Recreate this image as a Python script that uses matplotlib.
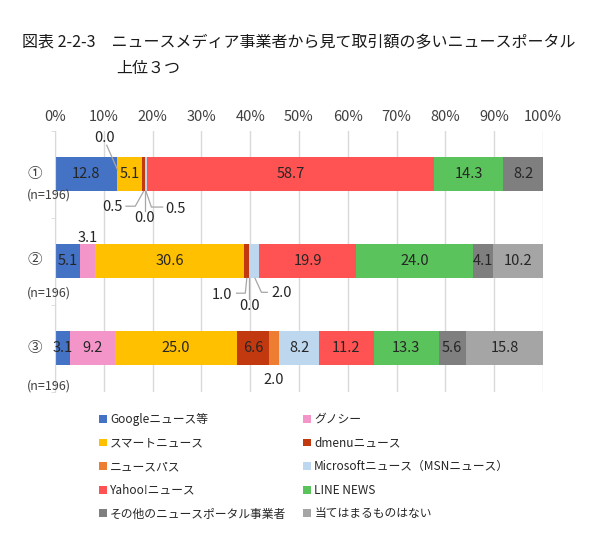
import matplotlib
matplotlib.use("Agg")
import matplotlib.pyplot as plt
from matplotlib.patches import Patch
import numpy as np

plt.rcParams['font.family'] = ['Noto Sans CJK JP', 'DejaVu Sans']

# ---------------- data ----------------
rows = ["①", "②", "③"]
n_labels = ["(n=196)", "(n=196)", "(n=196)"]
series = ["Googleニュース等", "グノシー", "スマートニュース", "dmenuニュース", "ニュースパス",
          "Microsoftニュース（MSNニュース）", "Yahoo!ニュース", "LINE NEWS",
          "その他のニュースポータル事業者", "当てはまるものはない"]
google = [12.8, 5.1, 3.1]
gunosy = [0.0, 3.1, 9.2]
smart = [5.1, 30.6, 25.0]
dmenu = [0.5, 1.0, 6.6]
newspass = [0.0, 0.0, 2.0]
microsoft = [0.5, 2.0, 8.2]
yahoo = [58.7, 19.9, 11.2]
line_news = [14.3, 24.0, 13.3]
other = [8.2, 4.1, 5.6]
none_ = [0.0, 10.2, 15.8]
values = [google, gunosy, smart, dmenu, newspass, microsoft, yahoo, line_news, other, none_]
xticks = [0, 10, 20, 30, 40, 50, 60, 70, 80, 90, 100]
xticklabels = [f"{t}%" for t in xticks]

colors = ['#4472C4', '#F495C9', '#FFC000', '#C3390F', '#ED7D31',
          '#BDD7EE', '#FF5252', '#5BC35B', '#7F7F7F', '#A5A5A5']

# label placement for small segments: (row, seg) -> (dx, dy, leader points relative to anchor)
outside = {
    (0, 1): (-2.7, -0.41, [(0, -0.05), (-2.2, -0.33)]),
    (0, 3): (-6.45, 0.38, [(0, 0.2), (-1.7, 0.37), (-3.6, 0.37)]),
    (0, 4): (0.0, 0.51, [(0, 0.2), (0, 0.43)]),
    (0, 5): (6.05, 0.40, [(0, 0.2), (1.1, 0.38), (3.4, 0.38)]),
    (1, 1): (0.0, -0.27, []),
    (1, 3): (-5.0, 0.39, [(0, 0.2), (-0.3, 0.37), (-2.1, 0.37)]),
    (1, 4): (0.0, 0.52, [(0, 0.2), (0, 0.44)]),
    (1, 5): (5.7, 0.37, [(0.2, 0.2), (1.5, 0.36), (2.7, 0.36)]),
    (2, 4): (0.0, 0.37, []),
}

W, H = 590, 540
fig = plt.figure(figsize=(W / 100, H / 100), dpi=100)
ax = fig.add_axes([55 / W, 1 - 391.5 / H, (543 - 55) / W, (391.5 - 130.5) / H])

ypos = np.arange(len(rows))
left = np.zeros(len(rows))
bar_h = 0.39
txt_color = '#262626'
lab_fs = 10.5
for s, (name, vals, c) in enumerate(zip(series, values, colors)):
    vals = np.array(vals)
    ax.barh(ypos, vals, left=left, height=bar_h, color=c, label=name, zorder=2)
    for r in range(len(rows)):
        v = vals[r]
        anchor = left[r] + v / 2
        if (r, s) in outside:
            dx, dy, pts = outside[(r, s)]
            ax.text(anchor + dx, r + dy, f"{v:.1f}", ha='center', va='center',
                    fontsize=lab_fs, color=txt_color, zorder=4)
            if pts:
                px = [anchor + p[0] for p in pts]
                py = [r + p[1] for p in pts]
                ax.plot(px, py, color='#A6A6A6', lw=0.9, zorder=3, clip_on=False)
        elif v > 0:
            ax.text(anchor, r, f"{v:.1f}", ha='center', va='center',
                    fontsize=lab_fs, color=txt_color, zorder=4)
    left = left + vals

ax.set_xlim(0, 100)
ax.set_ylim(len(rows) - 0.5, -0.5)
ax.xaxis.tick_top()
ax.set_xticks(xticks)
ax.set_xticklabels(xticklabels, fontsize=10.5, color='#404040')
ax.tick_params(axis='x', length=0, pad=5)
ax.set_yticks([])
ax.set_yticks([-0.5, 0.5, 1.5, 2.5], minor=True)
ax.tick_params(axis='y', which='minor', length=3, color='#D9D9D9', labelleft=False)
ax.grid(axis='x', color='#D9D9D9', lw=1, zorder=0)
for sp in ['top', 'right', 'bottom']:
    ax.spines[sp].set_visible(False)
ax.spines['left'].set_color('#D9D9D9')

# row labels
row_y = [174, 260, 348]
n_y = [195, 293, 386]
for r in range(len(rows)):
    fig.text(35 / W, 1 - row_y[r] / H, rows[r], ha='center', va='center', fontsize=10.5, color='#404040')
    fig.text(27 / W, 1 - n_y[r] / H, n_labels[r], ha='left', va='center', fontsize=9, color='#404040')

# title
fig.text(22 / W, 1 - 43 / H, "図表 2-2-3　ニュースメディア事業者から見て取引額の多いニュースポータル",
         ha='left', va='center', fontsize=11.5, color='#1a1a1a')
fig.text(116 / W, 1 - 68 / H, "上位３つ", ha='left', va='center', fontsize=11.5, color='#1a1a1a')

# legend
handles = [Patch(facecolor=c, edgecolor='none') for c in colors]
order = [0, 2, 4, 6, 8, 1, 3, 5, 7, 9]
leg = fig.legend([handles[i] for i in order], [series[i] for i in order],
                 loc='upper left', bbox_to_anchor=(99 / W, 1 - 413 / H), ncol=2,
                 frameon=False, fontsize=8.5, handlelength=0.65, handleheight=0.65,
                 handletextpad=0.3, columnspacing=1.4, labelspacing=0.9,
                 borderpad=0, borderaxespad=0)
for t in leg.get_texts():
    t.set_color('#262626')

fig.savefig("out.png", dpi=100)
